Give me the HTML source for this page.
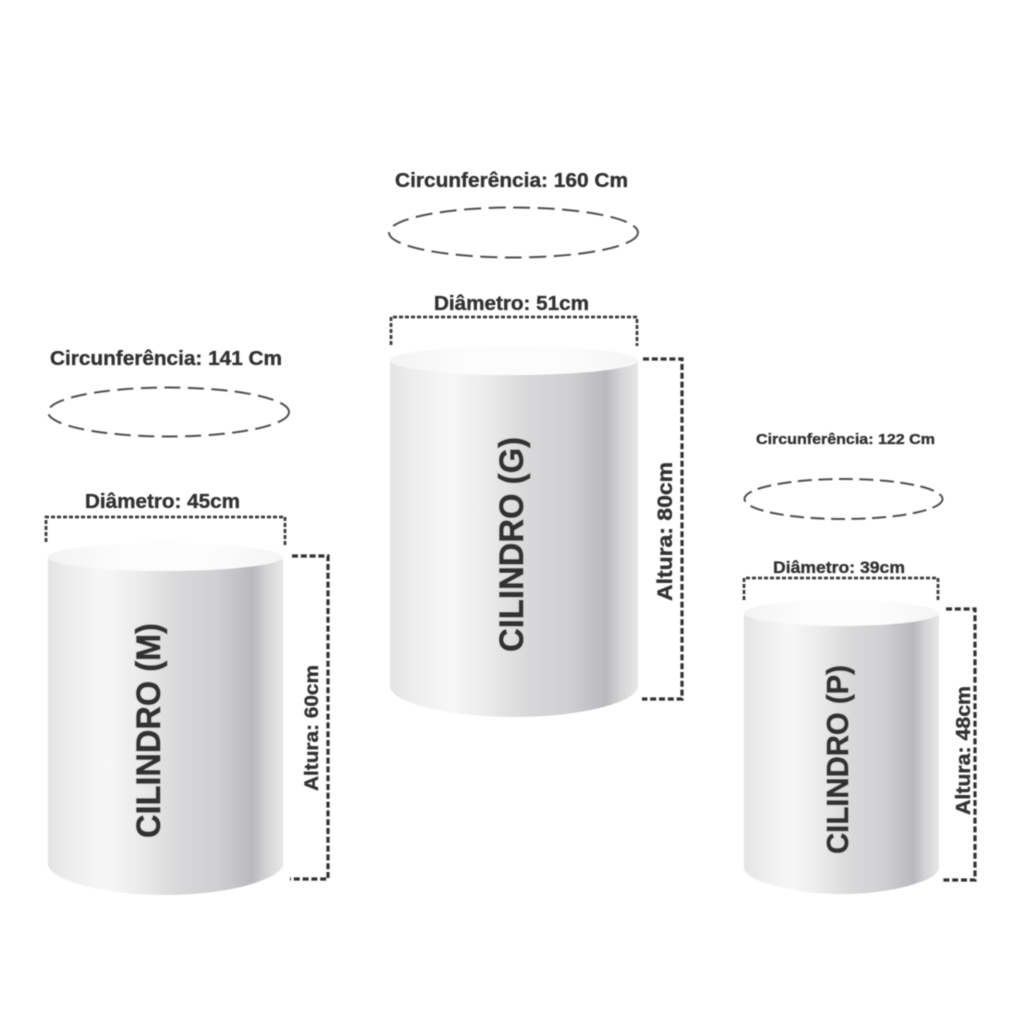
<!DOCTYPE html>
<html><head><meta charset="utf-8"><style>
html,body{margin:0;padding:0;background:#fff}
svg{display:block}
text{font-family:"Liberation Sans",sans-serif;font-weight:bold;fill:#333;stroke:#333;stroke-width:.35px}
</style></head><body>
<svg width="1024" height="1024" viewBox="0 0 1024 1024" xmlns="http://www.w3.org/2000/svg">
<defs>
<linearGradient id="b" x1="0" x2="1" y1="0" y2="0">
<stop offset="0" stop-color="#e4e4e4"/><stop offset=".1" stop-color="#eeeeee"/>
<stop offset=".24" stop-color="#f7f7f7"/><stop offset=".38" stop-color="#ececec"/>
<stop offset=".55" stop-color="#d9d9db"/><stop offset=".72" stop-color="#d0d0d3"/>
<stop offset=".87" stop-color="#b9b9be"/><stop offset=".93" stop-color="#d4d4d6"/>
<stop offset="1" stop-color="#e8e8e8"/>
</linearGradient>
<linearGradient id="t" x1="0" x2="1" y1="0" y2="0">
<stop offset="0" stop-color="#f3f3f3"/><stop offset=".3" stop-color="#fcfcfc"/><stop offset=".7" stop-color="#fcfcfc"/><stop offset="1" stop-color="#f5f5f5"/>
</linearGradient>
<filter id="s" x="-5%" y="-5%" width="110%" height="110%"><feGaussianBlur stdDeviation="0.6"/></filter>
</defs>
<g filter="url(#s)">
<!-- Cylinder M -->
<path d="M48 557V866C50 870 54 874 60 877C85 889 125 895 165 895C205 895 245 889 270 877C276 874 281 870 283 866V557Z" fill="url(#b)"/>
<ellipse cx="165.500" cy="557" rx="117.500" ry="14" fill="url(#t)"/>
<!-- Cylinder G -->
<path d="M390 360V688C392 692 396 696 402 699C428 711 470 717 514 717C558 717 600 711 626 699C632 696 636 692 638 688V360Z" fill="url(#b)"/>
<ellipse cx="514" cy="360.500" rx="124" ry="14.500" fill="url(#t)"/>
<!-- Cylinder P -->
<path d="M744 613V869C746 873 750 877 755 879C778 889 808 894 841 894C874 894 905 889 928 879C933 877 937 873 939 869V613Z" fill="url(#b)"/>
<ellipse cx="841.500" cy="613" rx="97.500" ry="13" fill="url(#t)"/>

<!-- Circumference ellipses -->
<g fill="none" stroke="#505050" stroke-width="2">
<ellipse cx="168.500" cy="412" rx="120.500" ry="24.500" stroke-dasharray="16 7.500"/>
<ellipse cx="513.500" cy="232.500" rx="124.500" ry="25" stroke-dasharray="17 7.500"/>
<ellipse cx="843.500" cy="499" rx="99" ry="20" stroke-dasharray="14 6.500"/>
</g>

<!-- Diameter brackets -->
<g fill="none" stroke="#3c3c3c" stroke-width="2.800" stroke-dasharray="4 2">
<path d="M46 542V517H285V545"/>
<path d="M391 345V317H637V346"/>
<path d="M744 600V578H938V602"/>
</g>

<!-- Height brackets -->
<g fill="none" stroke="#333" stroke-width="3.200" stroke-dasharray="6 2.800">
<path d="M292 556H328V879H290"/>
<path d="M643 359H682V699H642"/>
<path d="M946 609H975V880H943"/>
</g>

<!-- Horizontal labels -->
<text x="50" y="365" font-size="20" textLength="232" lengthAdjust="spacingAndGlyphs">Circunferência: 141 Cm</text>
<text x="85" y="508" font-size="20" textLength="155" lengthAdjust="spacingAndGlyphs">Diâmetro: 45cm</text>
<text x="395" y="187" font-size="20" textLength="233" lengthAdjust="spacingAndGlyphs">Circunferência: 160 Cm</text>
<text x="434" y="310" font-size="20" textLength="155" lengthAdjust="spacingAndGlyphs">Diâmetro: 51cm</text>
<text x="756" y="444" font-size="15" textLength="179" lengthAdjust="spacingAndGlyphs">Circunferência: 122 Cm</text>
<text x="773" y="573" font-size="17" textLength="132" lengthAdjust="spacingAndGlyphs">Diâmetro: 39cm</text>

<!-- Vertical labels -->
<text transform="translate(160 838) rotate(-90)" font-size="34" textLength="215" lengthAdjust="spacingAndGlyphs" style="stroke-width:.7px">CILINDRO (M)</text>
<text transform="translate(523 652) rotate(-90)" font-size="34" textLength="215" lengthAdjust="spacingAndGlyphs" style="stroke-width:.7px">CILINDRO (G)</text>
<text transform="translate(848 854) rotate(-90)" font-size="31" textLength="189" lengthAdjust="spacingAndGlyphs" style="stroke-width:.7px">CILINDRO (P)</text>
<text transform="translate(318 791) rotate(-90)" font-size="19" textLength="126" lengthAdjust="spacingAndGlyphs">Altura: 60cm</text>
<text transform="translate(672 601) rotate(-90)" font-size="21" textLength="139" lengthAdjust="spacingAndGlyphs">Altura: 80cm</text>
<text transform="translate(970 815) rotate(-90)" font-size="20" textLength="129" lengthAdjust="spacingAndGlyphs">Altura: 48cm</text>
</g>
</svg>
</body></html>
